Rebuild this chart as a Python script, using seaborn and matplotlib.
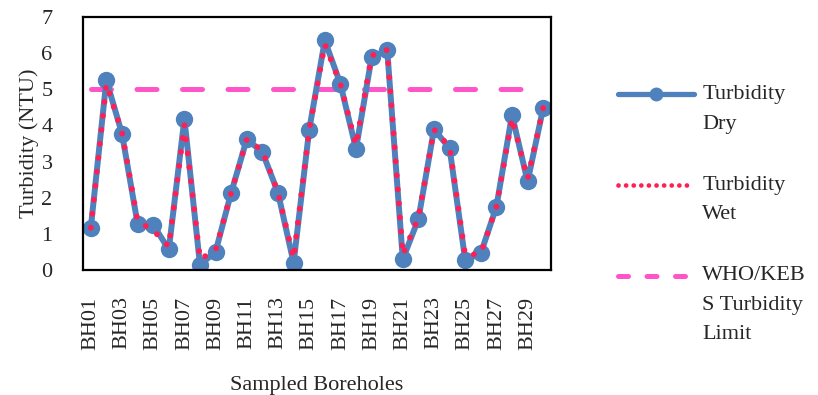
import matplotlib
matplotlib.use("Agg")
import matplotlib.pyplot as plt
import seaborn as sns
import pandas as pd
import numpy as np
from matplotlib.lines import Line2D
from matplotlib.legend_handler import HandlerLine2D

boreholes = ["BH01", "BH02", "BH03", "BH04", "BH05", "BH06", "BH07", "BH08", "BH09", "BH10",
             "BH11", "BH12", "BH13", "BH14", "BH15", "BH16", "BH17", "BH18", "BH19", "BH20",
             "BH21", "BH22", "BH23", "BH24", "BH25", "BH26", "BH27", "BH28", "BH29", "BH30"]
turbidity_dry = [1.17, 5.25, 3.77, 1.28, 1.25, 0.57, 4.18, 0.14, 0.51, 2.14,
                 3.62, 3.26, 2.14, 0.20, 3.88, 6.35, 5.15, 3.35, 5.88, 6.09,
                 0.30, 1.41, 3.89, 3.37, 0.28, 0.46, 1.75, 4.29, 2.45, 4.48]
turbidity_wet = [1.17, 5.15, 3.80, 1.35, 1.10, 0.65, 4.02, 0.30, 0.55, 2.14,
                 3.62, 3.30, 2.14, 0.32, 3.88, 6.25, 5.15, 3.45, 5.93, 6.09,
                 0.42, 1.45, 3.89, 3.40, 0.40, 0.46, 1.75, 4.20, 2.52, 4.48]
who_limit = [5.0] * len(boreholes)
tick_labels = ["BH01", "BH03", "BH05", "BH07", "BH09", "BH11", "BH13", "BH15",
               "BH17", "BH19", "BH21", "BH23", "BH25", "BH27", "BH29"]
y_ticks = [0, 1, 2, 3, 4, 5, 6, 7]
legend_labels = ["Turbidity\nDry", "Turbidity\nWet", "WHO/KEB\nS Turbidity\nLimit"]

df = pd.DataFrame({"Borehole": boreholes, "Dry": turbidity_dry,
                   "Wet": turbidity_wet, "Limit": who_limit})
df["pos"] = np.arange(len(df))

sns.set_theme(style="white")
plt.rcParams["font.family"] = ["Liberation Serif", "DejaVu Serif"]
plt.rcParams["font.size"] = 16

BLUE = "#4F81BD"
RED = "#FF1F55"
PINK = "#FF55C8"

fig = plt.figure(figsize=(8.18, 3.95), dpi=100)
ax = fig.add_axes([83/818, 1-270/395, (551-83)/818, (270-17)/395])

sns.lineplot(data=df, x="pos", y="Limit", ax=ax, color=PINK, linewidth=3.6,
             zorder=1, legend=False)
sns.lineplot(data=df, x="pos", y="Dry", ax=ax, color=BLUE, linewidth=4.3,
             marker="o", markersize=12.5, markeredgewidth=0, zorder=2, legend=False)
sns.lineplot(data=df, x="pos", y="Wet", ax=ax, color=RED, linewidth=4.2,
             zorder=3, legend=False)

lim_line, dry_line, wet_line = ax.lines[0], ax.lines[1], ax.lines[2]
lim_line.set_dashes((4.0, 5.1))
lim_line.set_dash_capstyle("round")
wet_line.set_dashes((0.01, 2.4))
wet_line.set_dash_capstyle("round")

ax.set_xlim(-0.5, len(boreholes) - 0.5)
ax.set_ylim(0, 7)
ax.set_yticks(y_ticks)
ax.set_yticklabels([str(v) for v in y_ticks])
ax.set_xticks(np.arange(0, len(boreholes), 2))
ax.set_xticklabels(tick_labels, rotation=90)
ax.tick_params(axis="x", length=0, pad=19, labelsize=16)
ax.tick_params(axis="y", length=0, pad=22, labelsize=16)
for s in ax.spines.values():
    s.set_visible(True)
    s.set_color("black")
    s.set_linewidth(1.6)
ax.set_xlabel("Sampled Boreholes", fontsize=16, labelpad=19)
ax.set_ylabel("Turbidity (NTU)", fontsize=16, labelpad=2)


class ShiftedHandler(HandlerLine2D):
    def __init__(self, shift, **kw):
        super().__init__(**kw)
        self.shift = shift

    def create_artists(self, legend, orig_handle, xdescent, ydescent,
                       width, height, fontsize, trans):
        arts = super().create_artists(legend, orig_handle, xdescent, ydescent,
                                      width, height, fontsize, trans)
        for a in arts:
            a.set_ydata(np.asarray(a.get_ydata(), dtype=float) + self.shift)
        return arts


h_dry = Line2D([], [], color=BLUE, linewidth=3.8, marker="o", markersize=10,
               markeredgewidth=0)
h_wet = Line2D([], [], color=RED, linewidth=3.4, dashes=(0.01, 1.6),
               dash_capstyle="round")
h_lim = Line2D([], [], color=PINK, linewidth=3.6, dashes=(2.0, 3.7),
               dash_capstyle="round")

leg = fig.legend([h_dry, h_wet, h_lim], legend_labels, loc="upper left",
                 bbox_to_anchor=(618/818, 1-85/395), frameon=False,
                 borderpad=0, borderaxespad=0, handlelength=3.4,
                 handletextpad=0.4, labelspacing=1.9,
                 fontsize=16,
                 handler_map={h_dry: ShiftedHandler(10.5),
                              h_wet: ShiftedHandler(10.5),
                              h_lim: ShiftedHandler(21.0)})
for t in leg.get_texts():
    t.set_linespacing(1.75)

fig.savefig("out.png", dpi=100)
